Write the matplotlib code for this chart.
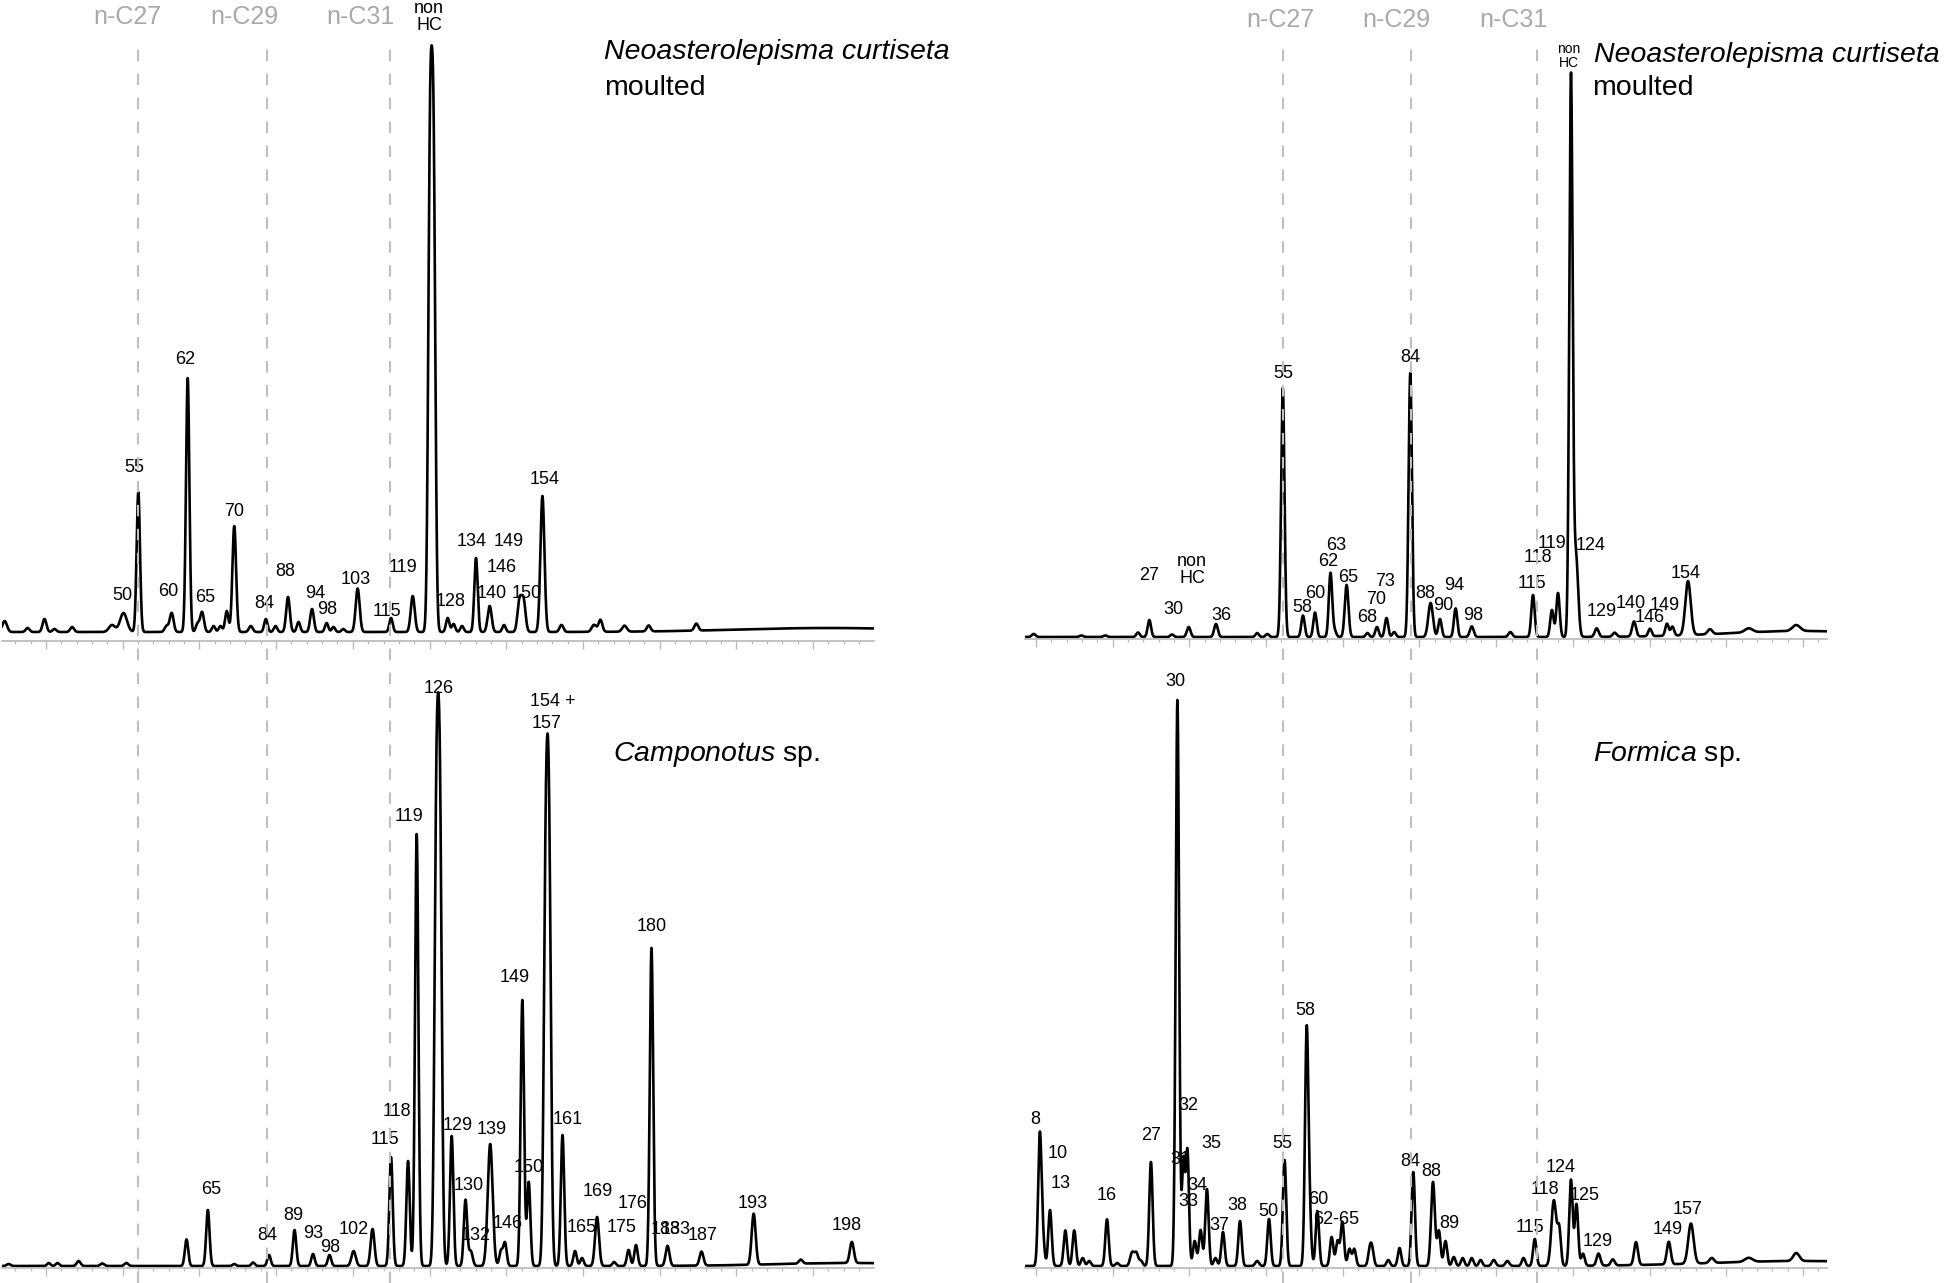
import numpy as np
import matplotlib
matplotlib.use('Agg')
import matplotlib.pyplot as plt
import matplotlib.transforms as mtransforms
from matplotlib.lines import Line2D

plt.rcParams['font.family'] = ['Liberation Sans', 'DejaVu Sans']
plt.rcParams['mathtext.fontset'] = 'custom'
plt.rcParams['mathtext.rm'] = 'Liberation Sans'
plt.rcParams['mathtext.it'] = 'Liberation Sans:italic'

# ---- peak tables (retention time [min], height, peak sigma [min]) ----
# top left: Neoasterolepisma curtiseta, moulted
tl_rt = [-0.54, -0.24, -0.02, 0.11, 0.34, 0.86, 1.01, 1.203, 1.571, 1.638, 1.847, 1.975,
         2.034, 2.184, 2.274, 2.356, 2.454, 2.670, 2.866, 2.992, 3.155, 3.292, 3.468, 3.658,
         3.748, 3.876, 4.063, 4.498, 4.781, 5.007, 5.052, 5.237, 5.313, 5.424, 5.606, 5.784,
         5.971, 6.173, 6.226, 6.472, 6.720, 7.145, 7.228, 7.542, 7.857, 8.478, 10.2]
tl_h = [11, 4, 13, 3, 5, 7, 19, 140, 6, 19, 254, 8,
        20, 6, 6, 21, 106, 6, 13, 6, 35, 10, 23, 9,
        5, 3, 43.5, 14, 36, 460, 450, 14, 8, 6, 74, 26,
        7, 31, 31, 136, 7, 7, 12, 6, 6, 7, 4]
tl_w = [0.03, 0.025, 0.025, 0.025, 0.025, 0.04, 0.045, 0.022, 0.025, 0.025, 0.022, 0.022,
        0.025, 0.022, 0.022, 0.022, 0.024, 0.025, 0.022, 0.022, 0.024, 0.022, 0.024, 0.022,
        0.022, 0.022, 0.026, 0.022, 0.026, 0.024, 0.024, 0.022, 0.022, 0.022, 0.022, 0.026,
        0.022, 0.026, 0.026, 0.026, 0.025, 0.03, 0.025, 0.03, 0.025, 0.025, 1.2]
tl_lab = ['50', '55', '60', '62', '65', '70', '84', '88', '94', '98', '103', '115', '119',
          'non\nHC', '128', '134', '149', '146', '140', '150', '154']
tl_lab_rt = [0.99, 1.147, 1.591, 1.812, 2.073, 2.451, 2.842, 3.116, 3.507, 3.664, 4.042,
             4.446, 4.655, 4.993, 5.28, 5.554, 6.036, 5.945, 5.815, 6.271, 6.506]
tl_lab_h = [36, 165, 41, 273, 34, 121, 29, 60, 39, 22, 53, 20, 65,
            615, 30, 90, 90, 64, 38, 38, 152]

# top right: Neoasterolepisma curtiseta, moulted (second run)
tr_rt = [-0.03, 0.593, 0.904, 1.330, 1.478, 1.773, 1.991, 2.347, 2.884, 3.016, 3.218, 3.481,
         3.638, 3.840, 3.894, 4.050, 4.321, 4.446, 4.570, 4.670, 4.880, 5.145, 5.267, 5.471,
         5.681, 6.185, 6.480, 6.727, 6.806, 6.975, 7.040, 7.310, 7.544, 7.797, 8.005, 8.227,
         8.297, 8.501, 8.787, 9.292, 9.912, 10.0]
tr_h = [3, 1.5, 1.5, 4.5, 17, 2.5, 10, 13, 4, 3, 249, 21.5,
        24.5, 64, 6, 52, 4, 10, 19, 5, 264, 34, 18, 28.6,
        10.6, 5, 42, 27, 44, 559, 81, 8.5, 4, 15, 7.5, 12,
        9, 54, 5, 4, 6, 6]
tr_w = [0.025, 0.025, 0.025, 0.022, 0.022, 0.022, 0.024, 0.024, 0.022, 0.022, 0.022, 0.022,
        0.022, 0.022, 0.022, 0.024, 0.022, 0.022, 0.022, 0.022, 0.022, 0.03, 0.022, 0.022,
        0.025, 0.025, 0.022, 0.022, 0.022, 0.022, 0.028, 0.025, 0.025, 0.025, 0.022, 0.022,
        0.022, 0.035, 0.03, 0.05, 0.05, 1.0]
tr_lab = ['27', 'non\nHC', '30', '36', '55', '58', '60', '62', '63', '65', '68', '70', '73',
          '84', '88', '90', '94', '98', '115', '118', '119', '124', '129', '140', '146',
          '149', '154']
tr_lab_rt = [1.473, 2.034, 1.786, 2.412, 3.220, 3.468, 3.638, 3.807, 3.911, 4.068, 4.316,
             4.433, 4.551, 4.876, 5.072, 5.306, 5.450, 5.704, 6.467, 6.545, 6.728, 7.236,
             7.373, 7.758, 8.005, 8.201, 8.475]
tr_lab_h = [61, 67, 28, 22, 263, 29, 44, 75, 91, 60, 19, 37, 56,
            280, 44, 31, 52, 22, 53, 79, 94, 91, 25, 34, 19, 32, 64]

# bottom left: Camponotus sp.
bl_rt = [-0.488, 0.036, 0.149, 0.425, 0.733, 1.047, 1.832, 2.110, 2.454, 2.700, 2.907, 3.240,
         3.481, 3.696, 4.010, 4.257, 4.498, 4.720, 4.833, 5.090, 5.135, 5.289, 5.469, 5.537,
         5.791, 5.932, 5.984, 6.210, 6.293, 6.515, 6.558, 6.734, 6.897, 6.988, 7.184, 7.406,
         7.595, 7.692, 7.894, 8.103, 8.546, 9.226, 9.840, 10.506, 10.5]
bl_h = [2, 3, 3, 5, 2.5, 3, 26.6, 56, 2, 3.5, 11, 36,
        12, 11, 15, 37, 109, 105, 432, 430, 430, 130, 66, 15,
        122, 15, 23, 266, 84, 375, 395, 131, 15, 8, 49, 4,
        16, 21, 318, 20, 14, 51, 4, 21, 3]
bl_w = [0.025, 0.022, 0.022, 0.025, 0.025, 0.025, 0.022, 0.022, 0.022, 0.022, 0.022, 0.022,
        0.022, 0.022, 0.028, 0.025, 0.022, 0.022, 0.022, 0.025, 0.025, 0.022, 0.022, 0.025,
        0.032, 0.022, 0.022, 0.022, 0.022, 0.025, 0.025, 0.022, 0.022, 0.022, 0.026, 0.022,
        0.022, 0.022, 0.022, 0.025, 0.025, 0.026, 0.025, 0.026, 1.0]
bl_lab = ['65', '84', '89', '93', '98', '102', '115', '118', '119', '126', '129', '130', '132',
          '139', '146', '149', '150', '154 +', '157', '161', '165', '169', '175', '176', '180',
          '183', '183', '187', '193', '198']
bl_lab_rt = [2.151, 2.881, 3.220, 3.481, 3.703, 4.016, 4.415, 4.576, 4.729, 5.117, 5.365,
             5.515, 5.606, 5.815, 6.016, 6.115, 6.297, 6.610, 6.524, 6.806, 6.982, 7.197,
             7.505, 7.647, 7.894, 8.083, 8.214, 8.566, 9.218, 10.443]
bl_lab_h = [77, 30, 51, 33, 18, 36, 126, 154, 449, 577, 141, 81, 31,
            137, 42, 288, 99, 564, 542, 146, 38, 74, 38, 63, 339,
            37, 37, 31, 63, 40]

# bottom right: Formica sp.
br_rt = [0.050, 0.089, 0.183, 0.383, 0.499, 0.609, 0.694, 0.926, 1.059, 1.252, 1.308, 1.369,
         1.499, 1.844, 1.923, 1.975, 2.069, 2.146, 2.229, 2.340, 2.438, 2.660, 2.884, 3.038,
         3.241, 3.529, 3.567, 3.669, 3.855, 3.932, 3.995, 4.087, 4.150, 4.352, 4.383, 4.593,
         4.740, 4.919, 5.176, 5.253, 5.339, 5.447, 5.563, 5.681, 5.797, 5.968, 6.146, 6.356,
         6.503, 6.752, 6.822, 6.975, 7.047, 7.132, 7.334, 7.520, 7.823, 8.250, 8.539, 8.810,
         9.292, 9.912, 10.0]
br_h = [129, 25, 56, 35.6, 35.6, 8, 5, 46.7, 3, 13, 13, 5,
        104, 566, 105, 114, 25, 36, 77, 8, 34, 45, 5, 47,
        106, 230, 45, 55, 29, 25, 44, 17, 17, 15, 15, 6,
        18, 94, 84, 35, 25, 9, 8, 8, 6, 6, 5, 8,
        27, 65.5, 35, 86, 61.5, 12, 12, 6, 23, 22.5, 40, 5,
        4, 8, 5]
br_w = [0.022, 0.022, 0.022, 0.022, 0.022, 0.022, 0.022, 0.022, 0.022, 0.025, 0.025, 0.022,
        0.022, 0.022, 0.02, 0.02, 0.022, 0.022, 0.022, 0.022, 0.022, 0.022, 0.025, 0.022,
        0.022, 0.022, 0.022, 0.022, 0.022, 0.022, 0.022, 0.022, 0.022, 0.022, 0.022, 0.022,
        0.022, 0.022, 0.025, 0.022, 0.022, 0.022, 0.022, 0.022, 0.022, 0.025, 0.025, 0.022,
        0.022, 0.032, 0.022, 0.022, 0.022, 0.022, 0.025, 0.025, 0.025, 0.025, 0.035, 0.03,
        0.05, 0.04, 1.2]
br_lab = ['8', '10', '13', '16', '27', '30', '32', '31', '33', '34', '35', '37', '38', '50',
          '55', '58', '60', '62-65', '84', '88', '89', '115', '118', '124', '125', '129',
          '149', '157']
br_lab_rt = [-0.013, 0.283, 0.321, 0.926, 1.499, 1.812, 1.991, 1.877, 1.991, 2.107, 2.282,
             2.395, 2.621, 3.025, 3.218, 3.507, 3.684, 3.917, 4.876, 5.159, 5.385, 6.441,
             6.637, 6.845, 7.158, 7.327, 8.240, 8.501]
br_lab_h = [146, 112, 83, 70.5, 131, 584, 160, 106, 65, 81, 122, 41, 61, 55,
            122, 255, 67, 47, 105, 94, 42, 38, 77, 98, 70.5, 25, 36, 56]

# n-alkane reference positions
left_alk = [1.196, 2.881, 4.48]
right_alk = [3.220, 4.889, 6.532]
alk_names = ['n-C27', 'n-C29', 'n-C31']


def chromatogram(x, rt, height, width):
    y = np.zeros_like(x)
    for r, h, w in zip(rt, height, width):
        y += h * np.exp(-0.5 * ((x - r) / w) ** 2)
    return y


W, H = 1944, 1283
fig = plt.figure(figsize=(W / 100, H / 100), dpi=100)


def make_ax(x0, x1, ybot, ytop, xlim, ylim):
    ax = fig.add_axes([x0 / W, 1 - ybot / H, (x1 - x0) / W, (ybot - ytop) / H])
    ax.set_xlim(*xlim)
    ax.set_ylim(*ylim)
    ax.patch.set_visible(False)
    for s in ['top', 'left', 'right']:
        ax.spines[s].set_visible(False)
    ax.spines['bottom'].set_color('#bdbdbd')
    ax.spines['bottom'].set_linewidth(1.3)
    ax.set_yticks([])
    ax.set_xticks(np.arange(0, 11))
    ax.set_xticks(np.arange(np.ceil(xlim[0] / 0.2) * 0.2, xlim[1], 0.2), minor=True)
    ax.tick_params(axis='x', which='major', length=5.5, width=1, color='#bdbdbd',
                   labelbottom=False)
    ax.tick_params(axis='x', which='minor', length=2.5, width=1, color='#bdbdbd')
    return ax


def draw(ax, rt, h, w, lab, lab_rt, lab_h):
    x = np.linspace(*ax.get_xlim(), 8000)
    ax.plot(x, chromatogram(x, rt, h, w), color='black', lw=1.9, zorder=2,
            solid_joinstyle='round')
    for t, xx, yy in zip(lab, lab_rt, lab_h):
        ax.text(xx, yy, t, ha='center', va='center', fontsize=13, zorder=1,
                linespacing=1.05)


lxlim = (-0.574, 10.795)
rxlim = (-0.143, 10.313)
ax_tl = make_ax(2, 874, 641, 0, lxlim, (-9, 632))
ax_tr = make_ax(1025, 1827, 639, 0, rxlim, (-2, 637))
ax_bl = make_ax(2, 874, 1267.5, 645, lxlim, (-1.5, 621))
ax_br = make_ax(1025, 1827, 1267.5, 645, rxlim, (-1.5, 621))

draw(ax_tl, tl_rt, tl_h, tl_w, tl_lab, tl_lab_rt, tl_lab_h)
draw(ax_tr, tr_rt, tr_h, tr_w, tr_lab, tr_lab_rt, tr_lab_h)
draw(ax_bl, bl_rt, bl_h, bl_w, bl_lab, bl_lab_rt, bl_lab_h)
draw(ax_br, br_rt, br_h, br_w, br_lab, br_lab_rt, br_lab_h)

# small "non HC" tag next to the big peak on the right
ax_tr.text(6.949, 581, 'non\nHC', ha='center', va='center', fontsize=10, linespacing=0.95)

# species names
ax_tl.text(7.275, 580, 'Neoasterolepisma curtiseta', fontsize=20.5, style='italic',
           va='center', ha='left')
ax_tl.text(7.275, 544, 'moulted', fontsize=20.5, va='center', ha='left')
ax_tr.text(7.275, 582, 'Neoasterolepisma curtiseta', fontsize=20.5, style='italic',
           va='center', ha='left')
ax_tr.text(7.255, 549, 'moulted', fontsize=20.5, va='center', ha='left')
ax_bl.text(7.392, 511, r'$\mathit{Camponotus}$ sp.', fontsize=20.5, va='center', ha='left')
ax_br.text(7.257, 512, r'$\mathit{Formica}$ sp.', fontsize=20.5, va='center', ha='left')

# n-alkane reference lines across both panels of each column
ytop = 1 - 46 / H
for ax, pos, lab_x, lab_h in [(ax_tl, left_alk, [1.063, 2.581, 4.100], 615),
                              (ax_tr, right_alk, [3.181, 4.694, 6.219], 617)]:
    trans = mtransforms.blended_transform_factory(ax.transData, fig.transFigure)
    for p in pos:
        fig.add_artist(Line2D([p, p], [0, ytop], transform=trans, color='#bfbfbf',
                              lw=1.5, dashes=(5.5, 6), zorder=5))
    for name, lx in zip(alk_names, lab_x):
        ax.text(lx, lab_h, name, ha='center', va='center', fontsize=18, color='#a9a9a9')

fig.savefig('out.png', dpi=100)
